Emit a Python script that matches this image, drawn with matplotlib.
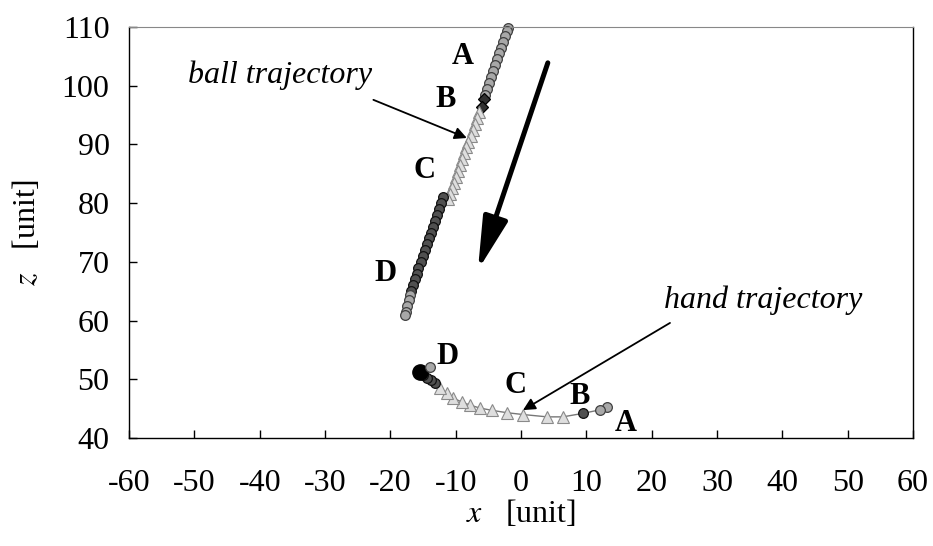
import matplotlib.pyplot as plt

SERIF = ["Liberation Serif", "DejaVu Serif"]
plt.rcParams["mathtext.fontset"] = "stix"

# Ball trajectory (x, z), split into the A..D phases
ball_a_x = [-2.0, -2.1, -2.4, -2.7, -3.0, -3.4, -3.7, -4.0, -4.3, -4.6, -4.9, -5.2, -5.5]
ball_a_z = [109.8, 109.3, 108.5, 107.5, 106.5, 105.5, 104.5, 103.5, 102.5, 101.5, 100.5, 99.5, 98.5]
ball_b_x = [-5.7, -6.0]
ball_b_z = [97.7, 96.4]
ball_c_x = [-6.5, -6.8, -7.1, -7.4, -7.7, -8.1, -8.4, -8.7, -9.0, -9.3, -9.6, -9.9, -10.3, -10.6, -10.9, -11.2]
ball_c_z = [95.5, 94.5, 93.5, 92.5, 91.5, 90.5, 89.5, 88.5, 87.5, 86.5, 85.5, 84.5, 83.5, 82.5, 81.5, 80.7]
ball_d_x = [-11.9, -12.2, -12.5, -12.8, -13.1, -13.5, -13.8, -14.1, -14.4, -14.7, -15.0, -15.3, -15.7, -16.0, -16.3, -16.6, -16.9]
ball_d_z = [81.0, 80.0, 79.0, 78.0, 77.0, 76.0, 75.0, 74.0, 73.0, 72.0, 71.0, 70.0, 69.0, 68.0, 67.0, 66.0, 65.0]
ball_e_x = [-17.0, -17.2, -17.4, -17.6, -17.8]
ball_e_z = [64.3, 63.5, 62.5, 61.5, 60.9]

# Hand trajectory (x, z)
hand_a_x = [13.2, 12.1]
hand_a_z = [45.3, 44.8]
hand_b_x = [9.5]
hand_b_z = [44.2]
hand_c_x = [6.4, 4.0, 0.3, -2.1, -4.4, -6.3, -7.8, -9.0, -10.4, -11.3, -12.4]
hand_c_z = [43.6, 43.6, 44.0, 44.3, 44.7, 45.1, 45.6, 46.1, 46.8, 47.6, 48.6]
hand_d_x = [-13.2, -13.8, -14.4, -15.0, -15.4]
hand_d_z = [49.3, 49.8, 50.3, 50.8, 51.2]
hand_e_x = [-14.0]
hand_e_z = [52.1]

# Phase labels
ball_labels = ["A", "B", "C", "D"]
ball_label_x = [-8.9, -11.5, -14.7, -20.8]
ball_label_z = [104.9, 97.6, 85.5, 68.1]
hand_labels = ["D", "C", "B", "A"]
hand_label_x = [-11.3, -0.8, 9.0, 16.1]
hand_label_z = [53.8, 49.0, 47.1, 42.5]

x_ticks = [-60, -50, -40, -30, -20, -10, 0, 10, 20, 30, 40, 50, 60]
z_ticks = [40, 50, 60, 70, 80, 90, 100, 110]

fig = plt.figure(figsize=(9.33, 5.46), dpi=100)
ax = fig.add_axes([0.1383, 0.1978, 0.8403, 0.7527])

circle_light = dict(marker="o", ms=7, mfc="#a8a8a8", mec="#404040", mew=0.9, ls="none")
circle_dark = dict(marker="o", ms=7, mfc="#505050", mec="#111111", mew=0.9, ls="none")
diamond_dark = dict(marker="D", ms=6, mfc="#303030", mec="#000000", mew=0.9, ls="none")
triangle = dict(marker="^", ms=8, mfc="#dedede", mec="#8a8a8a", mew=0.8, ls="none")

# ball
ax.plot(ball_a_x, ball_a_z, clip_on=False, **circle_light)
ax.plot(ball_b_x, ball_b_z, **diamond_dark)
ax.plot(ball_c_x, ball_c_z, **triangle)
ax.plot(ball_d_x, ball_d_z, **circle_dark)
ax.plot(ball_e_x, ball_e_z, **circle_light)

# hand: thin connecting line under the markers
hx = hand_a_x + hand_b_x + hand_c_x + hand_d_x
hz = hand_a_z + hand_b_z + hand_c_z + hand_d_z
ax.plot(hx, hz, color="#777777", lw=1.0)
ax.plot(hand_c_x, hand_c_z, **triangle)
ax.plot(hand_a_x, hand_a_z, **circle_light)
ax.plot(hand_b_x, hand_b_z, **circle_dark)
ax.plot(hand_d_x[:-1], hand_d_z[:-1], **circle_dark)
ax.plot(hand_d_x[-1:], hand_d_z[-1:], marker="o", ms=11, color="black", ls="none")
ax.plot(hand_e_x, hand_e_z, **circle_light)

for lab, lx, lz in zip(ball_labels + hand_labels,
                       ball_label_x + hand_label_x,
                       ball_label_z + hand_label_z):
    ax.text(lx, lz, lab, family=SERIF, fontsize=22, fontweight="bold",
            ha="center", va="center")

# annotations
arrow_thin = dict(arrowstyle="-|>", color="black", lw=1.3,
                  mutation_scale=18, shrinkA=0, shrinkB=0)
ax.text(-51.0, 101.8, "ball trajectory", family=SERIF, style="italic",
        fontsize=23, va="center")
ax.annotate("", xy=(-8.3, 91.1), xytext=(-22.6, 97.6), arrowprops=arrow_thin)
ax.text(21.9, 63.5, "hand trajectory", family=SERIF, style="italic",
        fontsize=23, va="center")
ax.annotate("", xy=(0.3, 44.75), xytext=(22.8, 59.6), arrowprops=arrow_thin)

# direction of motion
ax.annotate("", xy=(-6.6, 68.6), xytext=(4.1, 103.9),
            arrowprops=dict(arrowstyle="-|>,head_length=1.6,head_width=0.38",
                            color="black", lw=3.6, mutation_scale=20,
                            shrinkA=0, shrinkB=0))

ax.set_xlim(-60, 60)
ax.set_ylim(40, 110)
ax.set_xticks(x_ticks)
ax.set_yticks(z_ticks)
ax.set_xticklabels([str(t) for t in x_ticks], family=SERIF, fontsize=23)
ax.set_yticklabels([str(t) for t in z_ticks], family=SERIF, fontsize=23)
ax.tick_params(direction="in", length=6, width=1)
ax.tick_params(axis="x", pad=22)
ax.tick_params(axis="y", pad=14)

for side in ["left", "bottom", "right"]:
    ax.spines[side].set_color("black")
    ax.spines[side].set_linewidth(1.0)
ax.spines["top"].set_color("#888888")

ax.set_xlabel(r"$x$   [unit]", family=SERIF, fontsize=23, labelpad=0)
ax.set_ylabel(r"$z$   [unit]", family=SERIF, fontsize=23, labelpad=14)

fig.savefig("out.png", dpi=100)
